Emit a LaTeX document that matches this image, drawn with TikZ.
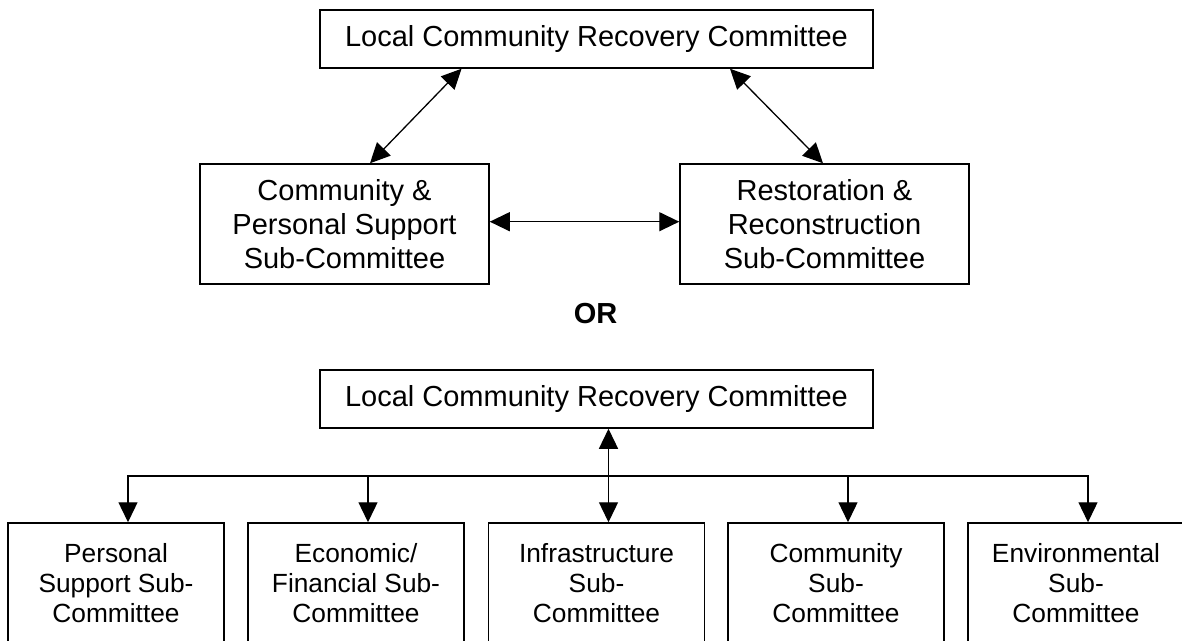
\documentclass[tikz,border=0pt]{standalone}
\usepackage{fontspec}
\setmainfont{Liberation Sans}
\usetikzlibrary{arrows.meta}

\begin{document}
\begin{tikzpicture}[x=1pt, y=-1pt, >={Triangle[length=20pt, width=19pt]}]
\tikzstyle{box} = [draw=black, line width=1.5pt, align=center, inner sep=0pt, font=\fontsize{29}{34.3}\selectfont]
\tikzstyle{subbox} = [box, minimum width=216pt, minimum height=120pt, font=\fontsize{26.3}{30}\selectfont]
\tikzstyle{edge} = [draw=black, line width=1.3pt]

\useasboundingbox (0,0) rectangle (1182,640);

\node[box, minimum width=553pt, minimum height=58pt] (L1) at (596.5,39) {Local Community Recovery Committee};
\node[box, minimum width=289pt, minimum height=120pt] (CP) at (344.5,224) {Community \&\\Personal Support\\Sub-Committee};
\node[box, minimum width=289pt, minimum height=120pt] (RR) at (824.5,224) {Restoration \&\\Reconstruction\\Sub-Committee};

\draw[edge, <->] ([xshift=-135pt]L1.south) -- ([xshift=25.5pt]CP.north);
\draw[edge, <->] ([xshift=133.5pt]L1.south) -- ([xshift=-1.5pt]RR.north);
\draw[edge, <->] ([yshift=2.3pt]CP.east) -- ([yshift=2.3pt]RR.west);

\node[font=\fontsize{29}{34}\selectfont\bfseries] (OR) at (595.5,313.3) {OR};

\node[box, minimum width=553pt, minimum height=58pt] (L2) at (596.5,399) {Local Community Recovery Committee};
\node[subbox] (PS) at (116,583) {Personal\\Support Sub-\\Committee};
\node[subbox] (EF) at (356,583) {Economic/\\Financial Sub-\\Committee};
\node[subbox] (IS) at (596.5,583) {Infrastructure\\Sub-\\Committee};
\node[subbox] (CS) at (836,583) {Community\\Sub-\\Committee};
\node[subbox] (ES) at (1076,583) {Environmental\\Sub-\\Committee};

% bar under the committee
\coordinate (J) at (608.5,476);
\draw[edge, <->] ([xshift=12pt]L2.south) -- ([xshift=12pt]IS.north);
\draw[edge, ->] (J) -| ([xshift=12pt]PS.north);
\draw[edge, ->] (J) -| ([xshift=12pt]EF.north);
\draw[edge, ->] (J) -| ([xshift=12pt]CS.north);
\draw[edge, ->] (J) -| ([xshift=12pt]ES.north);
\end{tikzpicture}
\end{document}
